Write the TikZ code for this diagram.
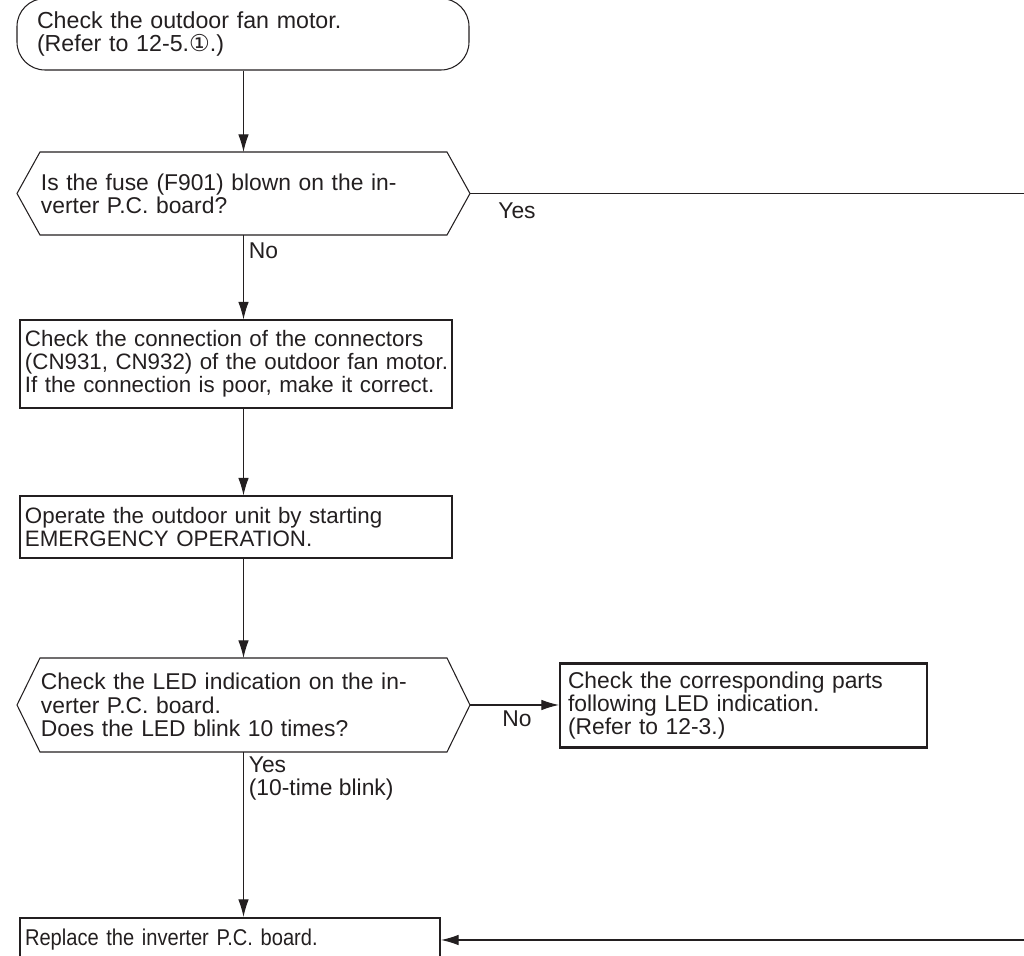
\documentclass[tikz,border=0pt]{standalone}
\usepackage{fontspec}
\setmainfont{Liberation Sans}
\newfontfamily\symfont{DejaVu Sans}
\newfontfamily\narrowfont[FakeStretch=0.88]{Liberation Sans}
\usetikzlibrary{positioning}
\usetikzlibrary{arrows.meta}
\definecolor{ink}{RGB}{35,31,32}
\newcommand{\hexframe}[1]{%
  \draw[draw=ink, line width=0.6pt] (#1.west) -- ([xshift=0.46cm]#1.north west) -- ([xshift=-0.46cm]#1.north east)
    -- (#1.east) -- ([xshift=-0.46cm]#1.south east) -- ([xshift=0.46cm]#1.south west) -- cycle;}

\begin{document}
\begin{tikzpicture}[every node/.style={font=\fontsize{13}{13.2}\selectfont, text=ink, inner ysep=0pt},
    box/.style={draw=ink, line width=0.6pt, minimum width=8.64cm, inner xsep=0.1cm, text width=8.44cm, align=left,
      font=\fontsize{12.7}{13.2}\selectfont},
    thickbox/.style={box, line width=1.2pt, font=\fontsize{13}{13.2}\selectfont},
    hexnode/.style={minimum width=9.06cm, inner xsep=0.48cm, text width=8.1cm, align=left, outer sep=0pt},
    flow/.style={draw=ink, line width=0.6pt, -{Latex[length=10pt,width=6pt]}},
    lbl/.style={inner sep=0pt, align=left}]
    \path[use as bounding box] (0,0) rectangle (20.48,-19.12);
    \clip (0,0) rectangle (20.48,-19.12);

    \node[box, rounded corners=0.56cm, minimum width=9.04cm, minimum height=1.43cm, inner xsep=0.4cm, text width=8.24cm,
      font=\fontsize{13.2}{13.2}\selectfont] (start) at (4.86,-0.685) {Check the outdoor fan motor.\\(Refer to 12-5.{\symfont ①}.)};
    \node[hexnode, minimum height=1.66cm] (fuse) at (4.87,-3.87) {Is the fuse (F901) blown on the in-\\verter P.C. board?};
    \hexframe{fuse}
    \node[box, minimum height=1.76cm] (conn) at (4.72,-7.28) {Check the connection of the connectors\\\mbox{(CN931, CN932) of the outdoor fan motor.}\\If the connection is poor, make it correct.};
    \node[box, minimum height=1.24cm] (emerg) at (4.72,-10.54) {Operate the outdoor unit by starting\\EMERGENCY OPERATION.};
    \node[hexnode, minimum height=1.88cm] (led) at (4.87,-14.1) {Check the LED indication on the in-\\verter P.C. board.\\Does the LED blink 10 times?};
    \hexframe{led}
    \node[thickbox, minimum width=7.34cm, text width=7.02cm, inner xsep=0.16cm, minimum height=1.68cm] (parts) at (14.87,-14.11) {Check the corresponding parts\\following LED indication.\\(Refer to 12-3.)};
    \node[thickbox, minimum width=8.4cm, text width=8.2cm, minimum height=0.88cm] (pcb) at (4.6,-18.8) {\narrowfont Replace the inverter P.C. board.};
    \coordinate[right=11.5cm of fuse.east] (rt);

    \draw[flow] (start.south -| fuse) -- (fuse);
    \draw[flow] (fuse) -- (fuse |- conn.north);
    \draw[flow] (fuse |- conn.south) -- (fuse |- emerg.north);
    \draw[flow] (fuse |- emerg.south) -- (led);
    \draw[flow] (led.east) -- (parts.west |- led.east);
    \draw[flow] (led) -- (led |- pcb.north);
    \draw[flow] (fuse.east) -- (rt) |- (pcb.east);

    \node[lbl, below right=0.14cm and 0.1cm of fuse.south] (no1) {No};
    \node[lbl, below right=0.17cm and 0.56cm of fuse.east] (yes1) {Yes};
    \node[lbl, below right=0.09cm and 0.1cm of led.south] (yes2) {Yes\\(10-time blink)};
    \node[lbl, below right=0.1cm and 0.64cm of led.east] (no2) {No};
\end{tikzpicture}
\end{document}
